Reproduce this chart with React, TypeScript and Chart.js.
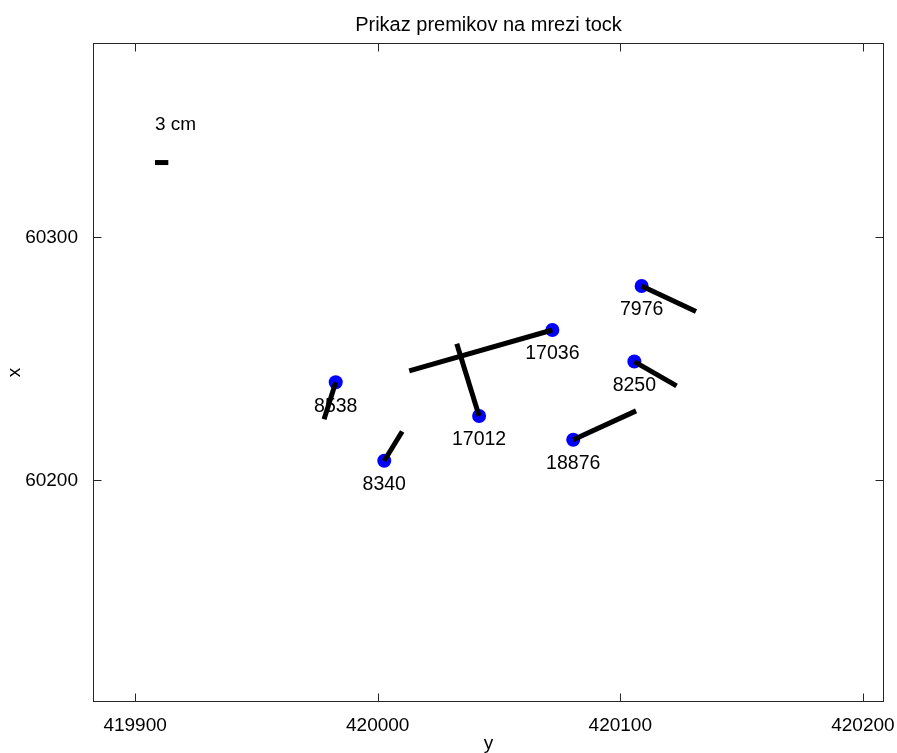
import { useEffect, useRef } from "react";
import { Chart, registerables } from "chart.js";

Chart.register(...registerables);

const W = 897;
const H = 753;
const FONT = "'Liberation Sans', Arial, Helvetica, sans-serif";

// Network points: easting ("y", horizontal) and northing ("x", vertical)
const pointNames = ["7976", "17036", "8250", "8538", "17012", "8340", "18876"];
const pointE = [420108.8, 420072.0, 420105.8, 419982.7, 420041.8, 420002.7, 420080.6];
const pointN = [60280.0, 60261.9, 60248.9, 60240.4, 60226.5, 60208.1, 60216.7];

// End of each (exaggerated) displacement vector
const shiftEndE = [420131.2, 420013.0, 420123.2, 419977.9, 420032.6, 420010.1, 420106.5];
const shiftEndN = [60269.5, 60245.1, 60238.9, 60225.2, 60256.2, 60220.1, 60228.6];

// Scale bar
const scaleBarE = [419908.2, 419913.7];
const scaleBarN = [60330.8, 60330.8];
const scaleBarText = "3 cm";
const scaleTextE = 419908.2;
const scaleTextN = 60344.2;

// Axes
const eTicks = [419900, 420000, 420100, 420200];
const nTicks = [60200, 60300];
const eRange = [419882.65, 420208.7];
const nRange = [60108.8, 60380.0];

const chartTitle = "Prikaz premikov na mrezi tock";
const xAxisTitle = "y";
const yAxisTitle = "x";

const TEXT_SIZE = 19;
const TICK_LEN = 8;

const annotate = {
  id: "annotate",
  afterDatasetsDraw(chart: any) {
    const { ctx, scales } = chart;
    const xs = scales.x;
    const ys = scales.y;
    ctx.save();
    ctx.fillStyle = "#000";
    ctx.font = `19.5px ${FONT}`;
    ctx.textAlign = "center";
    ctx.textBaseline = "middle";
    pointNames.forEach((name, i) => {
      const px = xs.getPixelForValue(pointE[i]);
      const py = ys.getPixelForValue(pointN[i]);
      ctx.fillText(name, px, py + 24);
    });
    ctx.font = `${TEXT_SIZE}px ${FONT}`;
    ctx.textAlign = "left";
    ctx.textBaseline = "alphabetic";
    ctx.fillText(scaleBarText, xs.getPixelForValue(scaleTextE), ys.getPixelForValue(scaleTextN));
    ctx.restore();
  },
  afterDraw(chart: any) {
    const { ctx, chartArea, scales } = chart;
    const { left, right, top, bottom } = chartArea;
    const xs = scales.x;
    const ys = scales.y;
    ctx.save();
    // box
    ctx.strokeStyle = "#262626";
    ctx.lineWidth = 1;
    const l = Math.round(left) + 0.5;
    const r = Math.round(right) - 0.5;
    const t = Math.round(top) + 0.5;
    const b = Math.round(bottom) - 0.5;
    ctx.strokeRect(l, t, r - l, b - t);
    // inward tick marks on all four sides
    ctx.beginPath();
    eTicks.forEach((v) => {
      const px = Math.round(xs.getPixelForValue(v)) + 0.5;
      ctx.moveTo(px, b);
      ctx.lineTo(px, b - TICK_LEN);
      ctx.moveTo(px, t);
      ctx.lineTo(px, t + TICK_LEN);
    });
    nTicks.forEach((v) => {
      const py = Math.round(ys.getPixelForValue(v)) + 0.5;
      ctx.moveTo(l, py);
      ctx.lineTo(l + TICK_LEN, py);
      ctx.moveTo(r, py);
      ctx.lineTo(r - TICK_LEN, py);
    });
    ctx.stroke();

    // titles
    ctx.fillStyle = "#000";
    ctx.textAlign = "center";
    ctx.textBaseline = "alphabetic";
    ctx.font = `20px ${FONT}`;
    ctx.fillText(chartTitle, (left + right) / 2, 31);
    ctx.font = `${TEXT_SIZE}px ${FONT}`;
    ctx.fillText(xAxisTitle, (left + right) / 2, 749);
    ctx.translate(20, (top + bottom) / 2);
    ctx.rotate(-Math.PI / 2);
    ctx.fillText(yAxisTitle, 0, 0);
    ctx.restore();
  },
};

export default function App() {
  const ref = useRef<HTMLCanvasElement>(null);

  useEffect(() => {
    const canvas = ref.current;
    if (!canvas) return;

    const shiftSets = pointNames.map((name, i) => ({
      label: `shift ${name}`,
      data: [
        { x: pointE[i], y: pointN[i] },
        { x: shiftEndE[i], y: shiftEndN[i] },
      ],
      showLine: true,
      borderColor: "#000",
      borderWidth: 5,
      pointRadius: 0,
      order: 0,
    }));

    const chart = new Chart(canvas, {
      type: "scatter",
      data: {
        datasets: [
          ...shiftSets,
          {
            label: "scale",
            data: scaleBarE.map((e, i) => ({ x: e, y: scaleBarN[i] })),
            showLine: true,
            borderColor: "#000",
            borderWidth: 5,
            pointRadius: 0,
            order: 0,
          },
          {
            label: "points",
            data: pointE.map((e, i) => ({ x: e, y: pointN[i] })),
            backgroundColor: "#0000ff",
            borderWidth: 0,
            pointRadius: 7,
            order: 1,
          },
        ],
      },
      options: {
        responsive: false,
        animation: false,
        devicePixelRatio: 1,
        layout: { padding: { left: 0, top: 43, right: 13, bottom: 0 } },
        plugins: {
          legend: { display: false },
          tooltip: { enabled: false },
          title: { display: false },
        },
        scales: {
          x: {
            type: "linear",
            min: eRange[0],
            max: eRange[1],
            grid: { display: false },
            border: { display: false },
            ticks: {
              color: "#000",
              font: { family: FONT, size: TEXT_SIZE },
              padding: 4,
              maxRotation: 0,
              autoSkip: false,
              callback: (v: any) => String(v),
            },
            afterBuildTicks: (s: any) => {
              s.ticks = eTicks.map((v) => ({ value: v }));
            },
            afterFit: (s: any) => {
              s.height = 51;
              s.paddingLeft = 0;
              s.paddingRight = 0;
            },
          },
          y: {
            type: "linear",
            min: nRange[0],
            max: nRange[1],
            grid: { display: false },
            border: { display: false },
            ticks: {
              color: "#000",
              font: { family: FONT, size: TEXT_SIZE },
              padding: 7,
              autoSkip: false,
              callback: (v: any) => String(v),
            },
            afterBuildTicks: (s: any) => {
              s.ticks = nTicks.map((v) => ({ value: v }));
            },
            afterFit: (s: any) => {
              s.width = 93;
              s.paddingTop = 0;
              s.paddingBottom = 0;
            },
          },
        },
      },
      plugins: [annotate],
    });

    return () => chart.destroy();
  }, []);

  return (
    <div style={{ position: "fixed", left: 0, top: 0, width: W, height: H, background: "#fff" }}>
      <canvas ref={ref} width={W} height={H} style={{ display: "block", width: W, height: H }} />
    </div>
  );
}
